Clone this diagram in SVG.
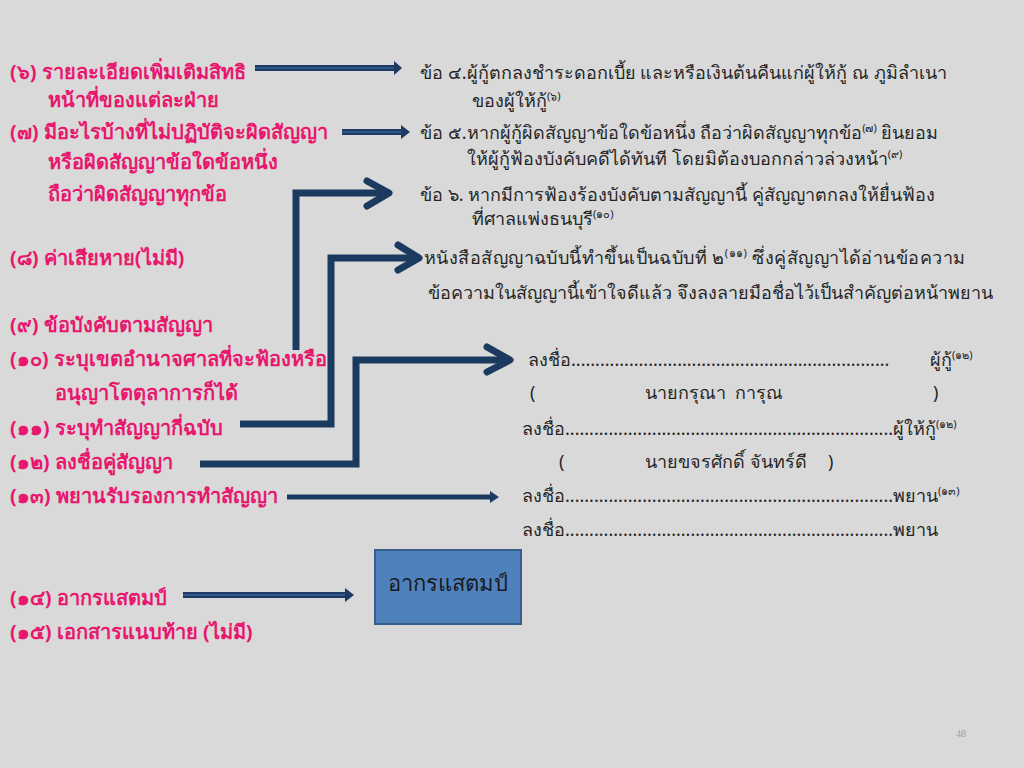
<svg xmlns="http://www.w3.org/2000/svg" width="1024" height="768" viewBox="0 0 1024 768">
<style>
.l{font-family:"Noto Sans","DejaVu Sans","Liberation Sans",sans-serif;font-weight:bold;font-size:20px;fill:#e8176d}
.r{font-family:"Noto Sans","DejaVu Sans","Liberation Sans",sans-serif;font-size:18px;fill:#262626}
.sup{font-size:11px}
.dl{stroke:#1c3a62;stroke-width:6;fill:none}
.dli{stroke:#2f5687;stroke-width:2;fill:none}
.el{stroke:#1b3a5f;stroke-width:7;fill:none;stroke-linejoin:miter}
.ch{stroke:#1b3a5f;stroke-width:7;fill:none;stroke-linecap:round;stroke-linejoin:round}
.ah{fill:#1c3a62}
</style>
<rect width="1024" height="768" fill="#d9d9d9"/>
<g id="left">
<text class="l" x="10" y="79">(๖) รายละเอียดเพิ่มเติมสิทธิ</text>
<text class="l" x="48" y="107">หน้าที่ของแต่ละฝ่าย</text>
<text class="l" x="10" y="139">(๗) มีอะไรบ้างที่ไม่ปฏิบัติจะผิดสัญญา</text>
<text class="l" x="48" y="169">หรือผิดสัญญาข้อใดข้อหนึ่ง</text>
<text class="l" x="48" y="201">ถือว่าผิดสัญญาทุกข้อ</text>
<text class="l" x="10" y="265">(๘) ค่าเสียหาย(ไม่มี)</text>
<text class="l" x="10" y="332">(๙) ข้อบังคับตามสัญญา</text>
<text class="l" x="10" y="366">(๑๐) ระบุเขตอำนาจศาลที่จะฟ้องหรือ</text>
<text class="l" x="55" y="400">อนุญาโตตุลาการก็ได้</text>
<text class="l" x="10" y="435">(๑๑) ระบุทำสัญญากี่ฉบับ</text>
<text class="l" x="10" y="469">(๑๒) ลงชื่อคู่สัญญา</text>
<text class="l" x="10" y="503">(๑๓) พยานรับรองการทำสัญญา</text>
<text class="l" x="10" y="605">(๑๔) อากรแสตมป์</text>
<text class="l" x="10" y="639">(๑๕) เอกสารแนบท้าย (ไม่มี)</text>
</g>
<g id="right">
<text class="r" x="420" y="79">ข้อ ๔.ผู้กู้ตกลงชำระดอกเบี้ย และหรือเงินต้นคืนแก่ผู้ให้กู้ ณ ภูมิลำเนา</text>
<text class="r" x="472" y="107">ของผู้ให้กู้<tspan class="sup" dy="-7">(๖)</tspan></text>
<text class="r" x="420" y="139">ข้อ ๕.หากผู้กู้ผิดสัญญาข้อใดข้อหนึ่ง ถือว่าผิดสัญญาทุกข้อ<tspan class="sup" dy="-7">(๗)</tspan><tspan dy="7"> ยินยอม</tspan></text>
<text class="r" x="467" y="165">ให้ผู้กู้ฟ้องบังคับคดีได้ทันที โดยมิต้องบอกกล่าวล่วงหน้า<tspan class="sup" dy="-7">(๙)</tspan></text>
<text class="r" x="420" y="201">ข้อ ๖. หากมีการฟ้องร้องบังคับตามสัญญานี้ คู่สัญญาตกลงให้ยื่นฟ้อง</text>
<text class="r" x="472" y="225">ที่ศาลแพ่งธนบุรี<tspan class="sup" dy="-7">(๑๐)</tspan></text>
<text class="r" x="424" y="264" textLength="541">หนังสือสัญญาฉบับนี้ทำขึ้นเป็นฉบับที่ ๒<tspan class="sup" dy="-7">(๑๑)</tspan><tspan dy="7"> ซึ่งคู่สัญญาได้อ่านข้อความ</tspan></text>
<text class="r" x="428" y="299">ข้อความในสัญญานี้เข้าใจดีแล้ว จึงลงลายมือชื่อไว้เป็นสำคัญต่อหน้าพยาน</text>
<text class="r" x="528" y="366">ลงชื่อ..................................................................</text>
<text class="r" x="930" y="366">ผู้กู้<tspan class="sup" dy="-7">(๑๒)</tspan></text>
<text class="r" x="530" y="399">(</text>
<text class="r" x="645" y="399" xml:space="preserve">นายกรุณา  การุณ</text>
<text class="r" x="933" y="399">)</text>
<text class="r" x="522" y="435">ลงชื่อ....................................................................ผู้ให้กู้<tspan class="sup" dy="-7">(๑๒)</tspan></text>
<text class="r" x="559" y="468">(</text>
<text class="r" x="645" y="468">นายขจรศักดิ์ จันทร์ดี</text>
<text class="r" x="828" y="468">)</text>
<text class="r" x="522" y="502">ลงชื่อ....................................................................พยาน<tspan class="sup" dy="-7">(๑๓)</tspan></text>
<text class="r" x="522" y="536">ลงชื่อ....................................................................พยาน</text>
</g>
<g id="stamp">
<rect x="375" y="550" width="146" height="74" fill="#4f81bd" stroke="#385d8a" stroke-width="2"/>
<text x="448" y="591" text-anchor="middle" style="font-family:'Noto Sans','DejaVu Sans',sans-serif;font-size:22px;fill:#1a1a1a">อากรแสตมป์</text>
</g>
<g id="connectors">
<line class="dl" x1="255" y1="68" x2="396" y2="68"/>
<line class="dli" x1="255" y1="68" x2="396" y2="68"/>
<polygon class="ah" points="394,61 402,68 394,75"/>
<line class="dl" x1="342" y1="132" x2="403" y2="132"/>
<line class="dli" x1="342" y1="132" x2="403" y2="132"/>
<polygon class="ah" points="401,125 410,132 401,139"/>
<line class="dl" x1="183" y1="595" x2="347" y2="595"/>
<line class="dli" x1="183" y1="595" x2="347" y2="595"/>
<polygon class="ah" points="345,588 354,595 345,602"/>
<line x1="287" y1="497" x2="493" y2="497" stroke="#1b3a5f" stroke-width="5"/>
<polygon class="ah" points="490,491 499,497 490,503"/>
<polyline class="el" points="296,350 296,193 386,193"/>
<polyline class="ch" points="367,181 389,193 367,206"/>
<polyline class="el" points="240,424 331,424 331,258 416,258"/>
<polyline class="ch" points="398,245 419,258 398,270"/>
<polyline class="el" points="200,464 356,464 356,360 508,360"/>
<polyline class="ch" points="487,347 510,360 487,372"/>
</g>
<text x="956" y="737" style="font-family:'Liberation Serif',serif;font-size:10px;fill:#a0a0a0">48</text>
</svg>
